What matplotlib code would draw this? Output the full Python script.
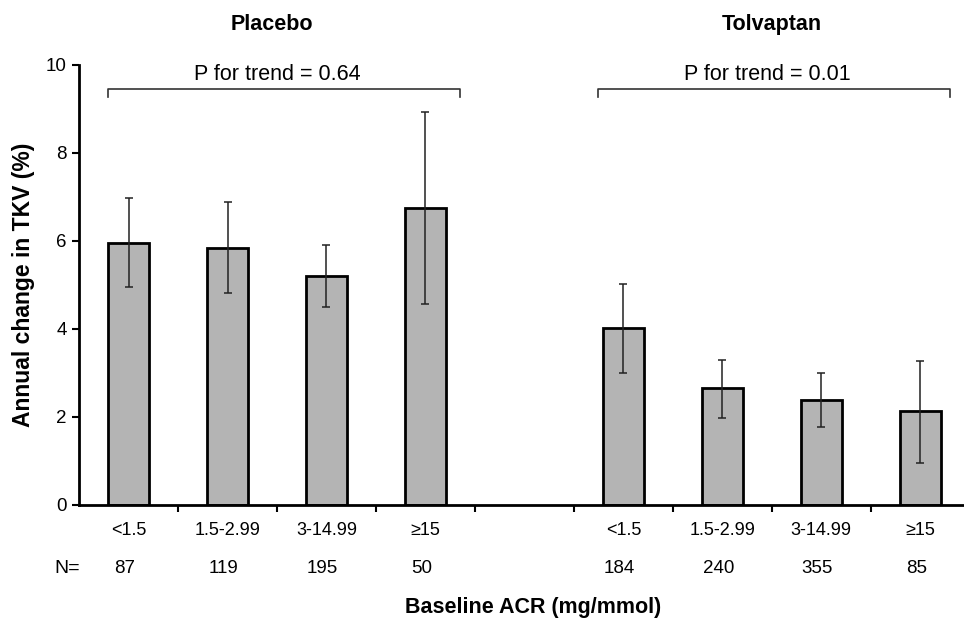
import numpy as np
import matplotlib.pyplot as plt
from matplotlib.transforms import blended_transform_factory

plt.rcParams['font.family'] = ['Liberation Sans', 'DejaVu Sans']

# data
categories = ["<1.5", "1.5-2.99", "3-14.99", "≥15"]
placebo_mean = [5.95, 5.84, 5.20, 6.75]
placebo_lo = [4.95, 4.82, 4.50, 4.57]
placebo_hi = [6.98, 6.89, 5.90, 8.93]
placebo_n = [87, 119, 195, 50]

tolv_mean = [4.02, 2.66, 2.39, 2.14]
tolv_lo = [3.00, 1.98, 1.77, 0.95]
tolv_hi = [5.02, 3.30, 3.00, 3.27]
tolv_n = [184, 240, 355, 85]

groups = ["Placebo", "Tolvaptan"]
p_trend = ["P for trend = 0.64", "P for trend = 0.01"]

# positions: 4 placebo, an empty slot, 4 tolvaptan
pos_p = np.arange(4)
pos_t = np.arange(5, 9)

fig = plt.figure(figsize=(9.64, 6.21), dpi=100)
ax = fig.add_axes([0.082, 0.187, 0.924, 0.7085])

BAR = "#b4b4b4"
for pos, mean, lo, hi in [(pos_p, placebo_mean, placebo_lo, placebo_hi),
                          (pos_t, tolv_mean, tolv_lo, tolv_hi)]:
    mean = np.array(mean)
    yerr = [mean - np.array(lo), np.array(hi) - mean]
    ax.bar(pos, mean, width=0.42, color=BAR, edgecolor="black", linewidth=2.0, zorder=2)
    ax.errorbar(pos, mean, yerr=yerr, fmt="none", ecolor="#222222",
                elinewidth=1.1, capsize=2.8, capthick=1.1, zorder=3)

ax.set_xlim(-0.5, 8.5)
ax.set_ylim(0, 10)
ax.set_yticks([0, 2, 4, 6, 8, 10])
ax.tick_params(axis="y", labelsize=13.5, length=5, width=1.5, direction="out", pad=4)

# category boundaries as ticks, labels at centres
ax.set_xticks(np.arange(0.5, 8.5, 1.0))
ax.set_xticklabels([])
ax.tick_params(axis="x", which="major", length=5, width=1.5, direction="out")
ax.set_xticks(list(pos_p) + list(pos_t), minor=True)
ax.set_xticklabels(categories + categories, minor=True)
ax.tick_params(axis="x", which="minor", length=0, labelsize=13, pad=12)

for s in ["top", "right"]:
    ax.spines[s].set_visible(False)
for s in ["left", "bottom"]:
    ax.spines[s].set_linewidth(2.0)

# N row
trans = blended_transform_factory(ax.transData, ax.transAxes)
ax.text(-0.62, -0.144, "N=", transform=trans, ha="center", va="center", fontsize=14)
for x, n in zip(list(pos_p) + list(pos_t), placebo_n + tolv_n):
    ax.text(x - 0.04, -0.144, str(n), transform=trans, ha="center", va="center", fontsize=13.5)

# brackets with P for trend
brackets = [(-0.21, 3.35), (4.74, 8.30)]
for (x0, x1), txt in zip(brackets, p_trend):
    ax.plot([x0, x0, x1, x1], [9.27, 9.45, 9.45, 9.27], color="#333333", lw=1.2,
            clip_on=False, zorder=4)
    ax.text((x0 + x1) / 2 - 0.07, 9.78, txt, ha="center", va="center", fontsize=15.5)

# group titles
for x, g in zip([1.45, 6.5], groups):
    ax.text(x, 1.091, g, transform=trans, ha="center", va="center",
            fontsize=15.5, fontweight="bold")

ax.set_ylabel("Annual change in TKV (%)", fontsize=16.5, fontweight="bold", labelpad=8)
fig.text(0.553, 0.022, "Baseline ACR (mg/mmol)", ha="center", va="center",
         fontsize=15.5, fontweight="bold")

fig.savefig("out.png", dpi=100)
